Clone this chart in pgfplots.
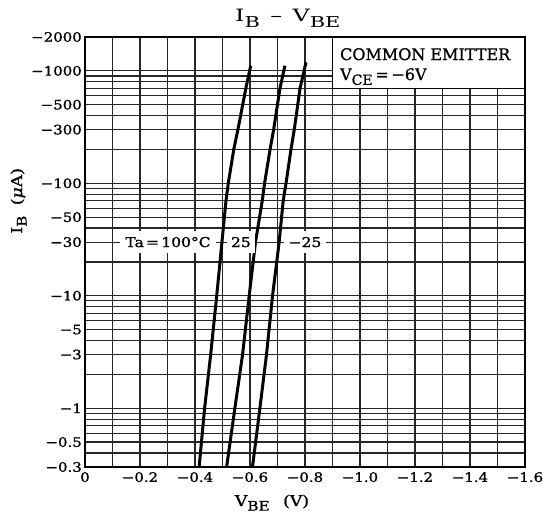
\documentclass[border=0pt]{standalone}
\usepackage{fontspec}
\setmainfont{DejaVu Serif}[FakeBold=1]
\newfontfamily\tk{DejaVu Serif}[FakeStretch=1.15, FakeBold=1.2]
\newfontfamily\ttl{DejaVu Serif}[FakeStretch=1.4]
\usepackage{graphicx}
\usepackage{pgfplots}
\pgfplotsset{compat=1.18}
\newcommand{\sub}[1]{\raisebox{-0.3em}{\scalebox{0.88}{#1}}}
\begin{document}
\begin{tikzpicture}
\useasboundingbox (-85pt,-53pt) rectangle (468pt,467pt);
\begin{axis}[
  scale only axis,
  width=440pt, height=430pt,
  x dir=reverse,
  xmin=-1.6, xmax=0,
  ymode=log, ymin=0.3, ymax=2000,
  xtick={0,-0.2,-0.4,-0.6,-0.8,-1.0,-1.2,-1.4,-1.6},
  xticklabels={0,−0.2,−0.4,−0.6,−0.8,−1.0,−1.2,−1.4,−1.6},
  minor xtick={-0.1,-0.3,-0.5,-0.7,-0.9,-1.1,-1.3,-1.5},
  ytick={0.3,0.5,1,3,5,10,30,50,100,300,500,1000,2000},
  yticklabels={−0.3,−0.5,−1,−3,−5,−10,−30,−50,−100,−300,−500,−1000,−2000},
  minor ytick={0.4,0.6,0.7,0.8,0.9,2,4,6,7,8,9,20,40,60,70,80,90,200,400,600,700,800,900},
  grid=both,
  major grid style={black!85, line width=1.2pt},
  minor grid style={black!85, line width=1.2pt},
  major tick length=0pt, minor tick length=0pt,
  axis line style={black, line width=2pt},
  tick label style={font=\fontsize{13}{13}\tk, inner sep=0pt},
  xticklabel style={yshift=-5pt},
  yticklabel style={xshift=-3pt},
  clip=false,
]
% Ta = 100 C
\addplot[black, line width=3pt] coordinates {
  (-0.415,0.3) (-0.435,1) (-0.457,3) (-0.479,10) (-0.498,30) (-0.513,71)
  (-0.521,100) (-0.541,200) (-0.556,300) (-0.585,700) (-0.6025,1111)
};
% Ta = 25 C
\addplot[black, line width=3pt] coordinates {
  (-0.515,0.3) (-0.545,1) (-0.573,3) (-0.597,10) (-0.620,30) (-0.645,71)
  (-0.653,100) (-0.673,200) (-0.686,300) (-0.709,700) (-0.727,1111)
};
% Ta = -25 C
\addplot[black, line width=3pt] coordinates {
  (-0.609,0.3) (-0.636,1) (-0.660,3) (-0.682,10) (-0.706,30) (-0.721,71)
  (-0.731,100) (-0.749,200) (-0.761,300) (-0.782,700) (-0.8036,1191)
};

\draw[black, line width=1.5pt, fill=white] (axis cs:-0.9,700) rectangle (axis cs:-1.6,2000);
\node[anchor=base west, inner sep=0pt, font=\fontsize{16}{16}\selectfont]
  at (axis cs:-0.927,1248) {COMMON EMITTER};
\node[anchor=base west, inner sep=0pt, font=\fontsize{16}{16}\selectfont]
  at (axis cs:-0.927,828) {V\sub{CE}\,=\,−6V};

\node[fill=white, inner xsep=5pt, inner ysep=6pt, font=\fontsize{13.5}{13.5}\tk]
  at (axis cs:-0.302,30) {Ta\,=\,100°C};
\node[fill=white, inner xsep=4pt, inner ysep=6pt, font=\fontsize{13.5}{13.5}\tk]
  at (axis cs:-0.567,30) {25};
\node[fill=white, inner xsep=5pt, inner ysep=6pt, font=\fontsize{13.5}{13.5}\tk]
  at (axis cs:-0.80,30) {−25};

\node[anchor=base, font=\fontsize{17}{17}\ttl]
  at (axis description cs:0.461,1.035) {I\sub{B} \,–\, V\sub{BE}};
\node[anchor=base, font=\fontsize{15}{15}\tk]
  at (axis description cs:0.425,-0.091) {V\sub{BE}\hspace{0.9em}(V)};
\node[anchor=base, rotate=90, font=\fontsize{15}{15}\tk]
  at (axis description cs:-0.143,0.619) {I\sub{B}\hspace{0.7em}({\itshape μ}A)};
\end{axis}
\end{tikzpicture}
\end{document}
